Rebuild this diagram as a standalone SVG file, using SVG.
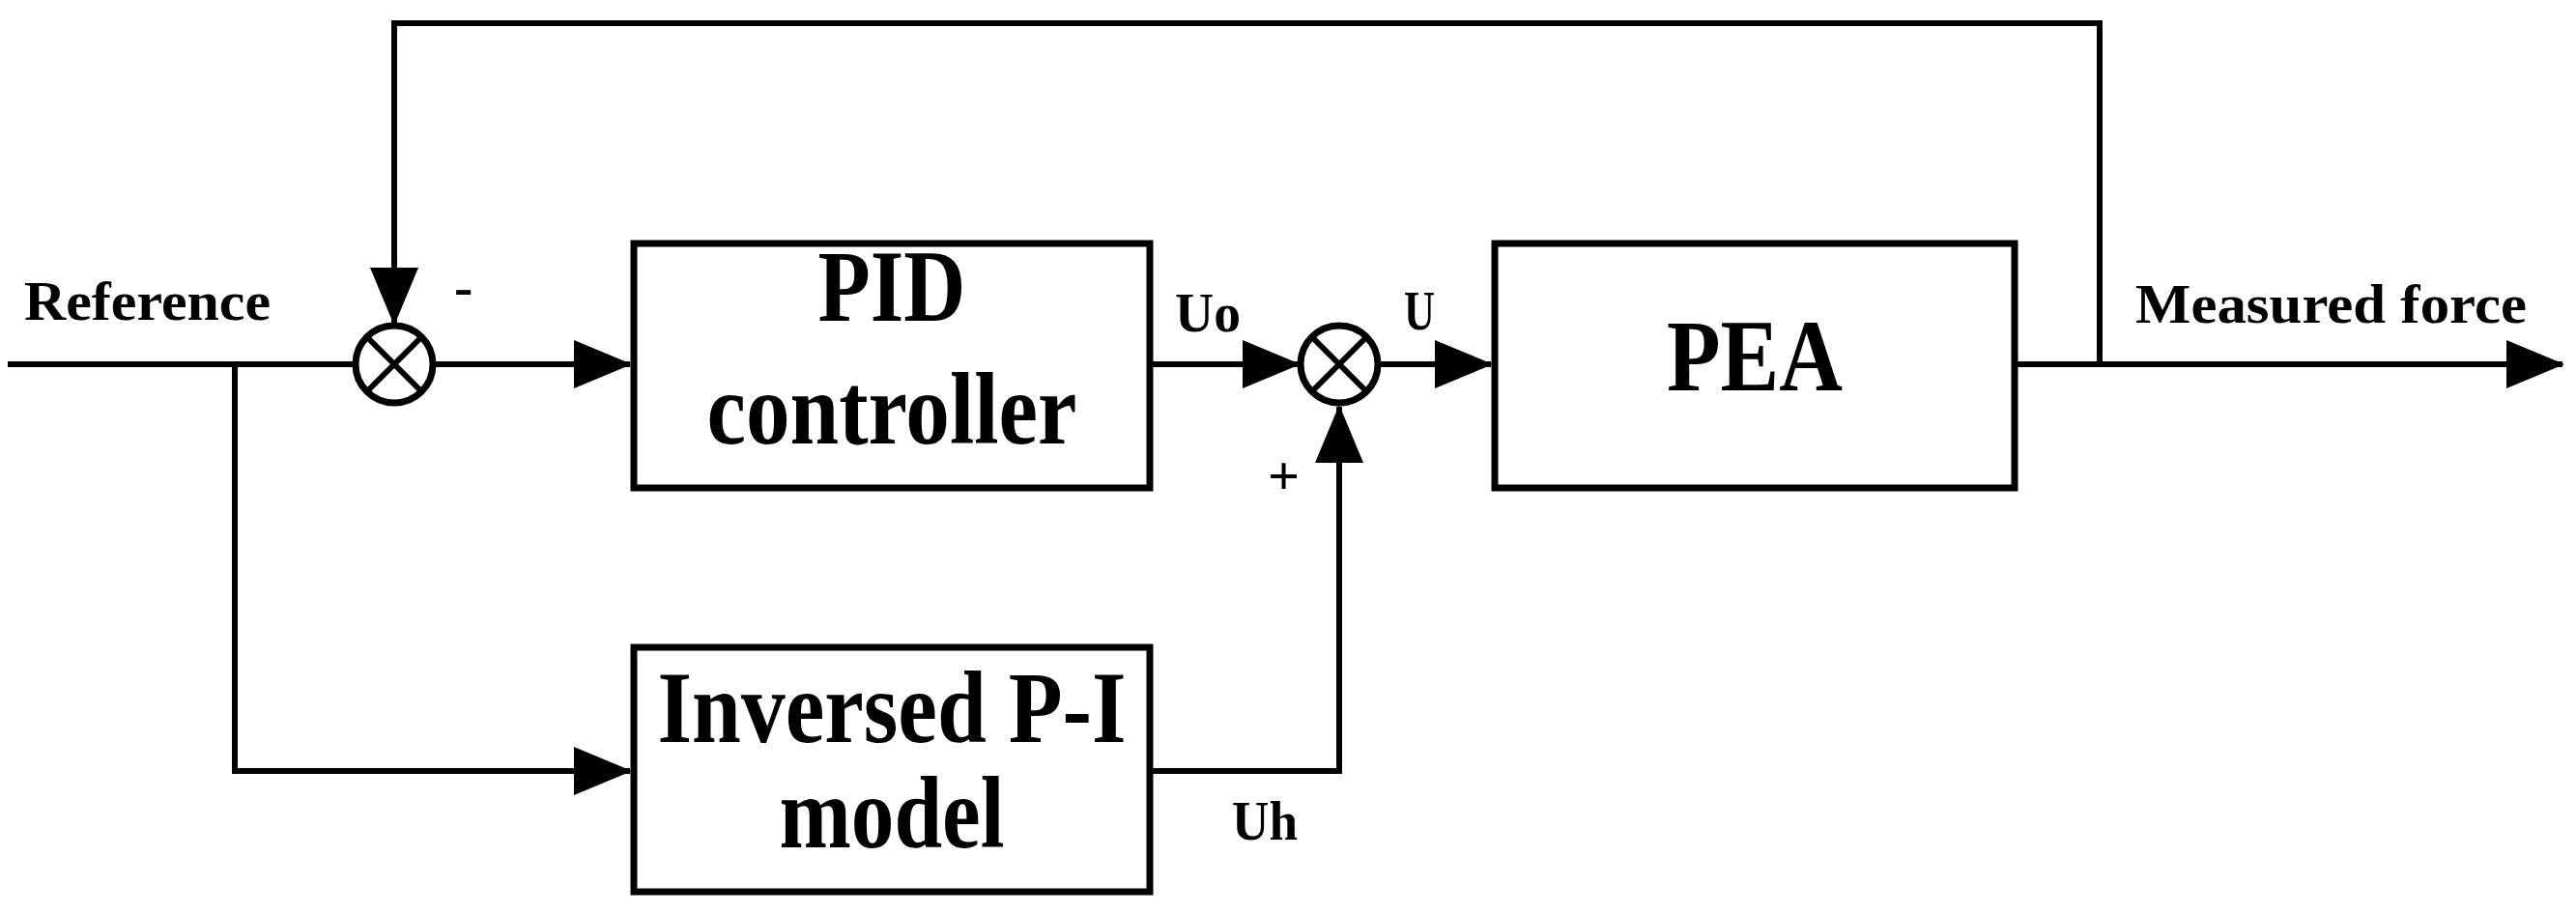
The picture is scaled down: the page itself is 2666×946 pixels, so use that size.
<svg xmlns="http://www.w3.org/2000/svg" width="2666" height="946" viewBox="0 0 2666 946">
<style>
.b{fill:#fff;stroke:#000;stroke-width:7}
.l{fill:none;stroke:#000;stroke-width:6}
.t{font-family:"Liberation Serif",serif;font-weight:bold;fill:#000}
.s{font-size:58px}
.big{font-size:106px;text-anchor:middle}
</style>
<defs>
<marker id="a" markerUnits="userSpaceOnUse" markerWidth="60" markerHeight="50" refX="58" refY="25" orient="auto"><path d="M0,0 L60,25 L0,50 Z" fill="#000"/></marker>
</defs>
<g id="connectors">
<path class="l" d="M8,377 H368"/>
<path class="l" d="M448,377 H652" marker-end="url(#a)"/>
<path class="l" d="M243,377 V798 H652" marker-end="url(#a)"/>
<path class="l" d="M1190,377 H1344" marker-end="url(#a)"/>
<path class="l" d="M1426,377 H1543" marker-end="url(#a)"/>
<path class="l" d="M1190,798 H1386 V421" marker-end="url(#a)"/>
<path class="l" d="M2085,377 H2652" marker-end="url(#a)"/>
<path class="l" d="M2173,377 V24 H408 V335" marker-end="url(#a)"/>
</g>
<g id="sum1"><circle class="b" cx="408" cy="377" r="40" stroke-width="5"/><path class="l" stroke-width="4" d="M380,349 L436,405 M436,349 L380,405"/></g>
<g id="sum2"><circle class="b" cx="1386" cy="377" r="40" stroke-width="5"/><path class="l" stroke-width="4" d="M1358,349 L1414,405 M1414,349 L1358,405"/></g>
<g id="pid"><rect class="b" x="656" y="252" width="534" height="253"/><text class="t big" x="923" y="332" textLength="153" lengthAdjust="spacingAndGlyphs">PID</text><text class="t big" x="923" y="459" textLength="383" lengthAdjust="spacingAndGlyphs">controller</text></g>
<g id="pea"><rect class="b" x="1547" y="252" width="538" height="253"/><text class="t big" x="1816" y="404" textLength="182" lengthAdjust="spacingAndGlyphs">PEA</text></g>
<g id="inv"><rect class="b" x="656" y="670" width="534" height="253"/><text class="t big" x="923" y="768" textLength="485" lengthAdjust="spacingAndGlyphs">Inversed P-I</text><text class="t big" x="923" y="877" textLength="233" lengthAdjust="spacingAndGlyphs">model</text></g>
<g id="labels">
<text class="t s" x="25" y="331" textLength="255" lengthAdjust="spacingAndGlyphs">Reference</text>
<text class="t s" x="470" y="316">-</text>
<text class="t s" x="1216" y="343" textLength="68" lengthAdjust="spacingAndGlyphs">Uo</text>
<text class="t s" x="1453" y="341" textLength="32" lengthAdjust="spacingAndGlyphs">U</text>
<text class="t s" x="1312" y="512">+</text>
<text class="t s" x="2210" y="334" textLength="405" lengthAdjust="spacingAndGlyphs">Measured force</text>
<text class="t s" x="1275" y="869" textLength="68" lengthAdjust="spacingAndGlyphs">Uh</text>
</g>
</svg>
